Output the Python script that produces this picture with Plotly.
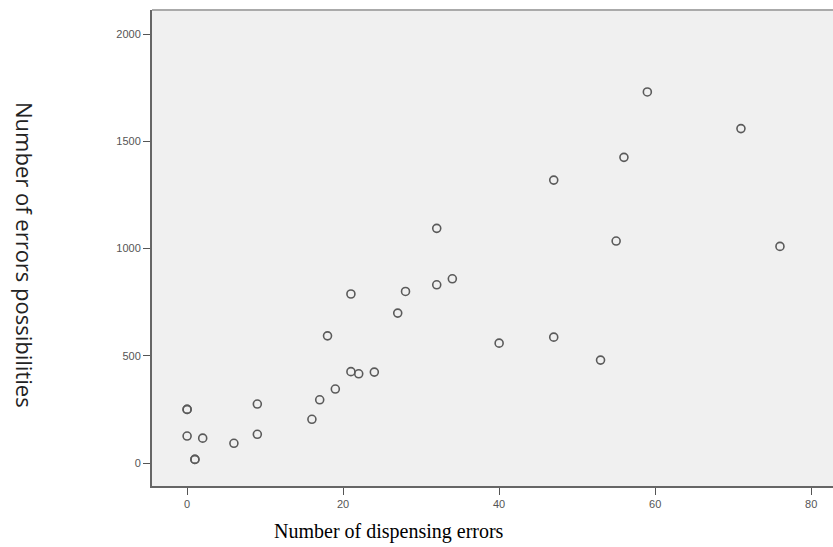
import plotly.graph_objects as go

dispensing_errors = [0, 0, 0, 2, 1, 1, 6, 9, 9, 16, 17, 18, 19, 21, 21, 22, 24, 27, 28,
                     32, 32, 34, 40, 47, 47, 53, 55, 56, 59, 71, 76]
error_possibilities = [250, 250, 126, 116, 17, 17, 92, 275, 134, 204, 295, 593, 345, 788,
                       426, 416, 424, 699, 800, 831, 1094, 859, 559, 1319, 587, 480, 1035,
                       1425, 1730, 1559, 1010]
x_ticks = [0, 20, 40, 60, 80]
y_ticks = [0, 500, 1000, 1500, 2000]

fig = go.Figure()
fig.add_trace(go.Scatter(
    x=dispensing_errors, y=error_possibilities, mode="markers",
    marker=dict(symbol="circle-open", size=8, color="#5a5a5a", line=dict(width=1.6)),
    showlegend=False, hoverinfo="skip",
))

axis_common = dict(
    showgrid=False, zeroline=False, showline=True, linecolor="#666666", linewidth=2,
    ticks="outside", ticklen=7, tickcolor="#555555", tickwidth=1,
    tickfont=dict(family="Liberation Sans, Arial, sans-serif", size=11, color="#555555"),
)
fig.update_xaxes(range=[-4.5, 82.8], tickvals=x_ticks, **axis_common)
fig.update_yaxes(range=[-107, 2112], tickvals=y_ticks, **axis_common)

fig.add_shape(type="line", xref="paper", yref="paper", x0=0, x1=1, y0=1, y1=1,
              line=dict(color="#aaaaaa", width=2))

fig.add_annotation(text="Number of errors possibilities", xref="paper", yref="paper",
                   x=-152/681 + 25/681, y=(486-255)/476, textangle=90, showarrow=False,
                   xanchor="center", yanchor="middle",
                   font=dict(family="Open Sans, Noto Sans, sans-serif", size=22, color="#222222"))
fig.add_annotation(text="Number of dispensing errors", xref="paper", yref="paper",
                   x=(389-152)/681, y=-(531-486)/476, showarrow=False,
                   xanchor="center", yanchor="middle",
                   font=dict(family="Liberation Serif, Times New Roman, serif", size=20, color="#000000"))

fig.update_layout(
    width=833, height=547,
    margin=dict(l=152, r=0, t=10, b=61),
    plot_bgcolor="#f0f0f0", paper_bgcolor="#ffffff",
)
fig.write_html("out.html", config={"displayModeBar": False},
               post_script="document.body.style.margin='0';document.body.style.overflow='hidden';")
